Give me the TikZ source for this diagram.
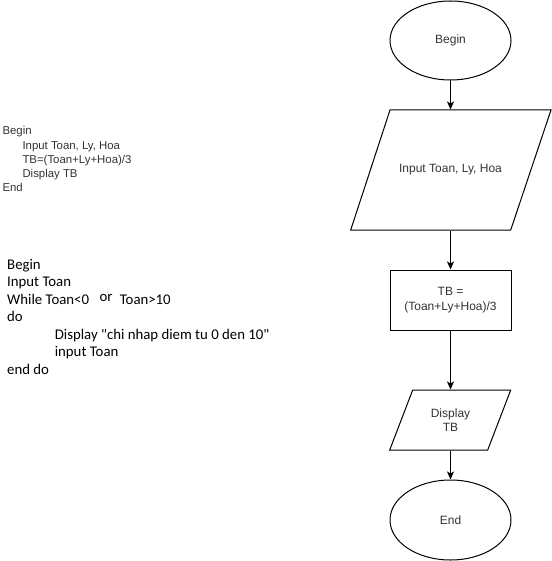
\documentclass[tikz,border=0pt]{standalone}
\usepackage{fontspec}
\setmainfont{Liberation Sans}
\newfontfamily\calibri{Carlito}
\usetikzlibrary{shapes.geometric,arrows.meta}
\definecolor{txtgray}{HTML}{333333}
\begin{document}
\begin{tikzpicture}[x=1pt,y=-1pt,
  line width=1pt,
  arr/.style={-{Stealth[length=8pt,width=7pt,inset=2pt]}},
  term/.style={ellipse,draw,minimum width=121pt,minimum height=79pt,inner sep=0pt,
    font=\fontsize{12}{14}\selectfont,text=txtgray},
  procbox/.style={rectangle,draw,minimum width=121pt,minimum height=60pt,inner sep=0pt,
    align=center,font=\fontsize{12}{14.5}\selectfont,text=txtgray},
  iobox/.style={rectangle,draw=none,inner sep=0pt,align=center,
    font=\fontsize{12}{14.5}\selectfont,text=txtgray},
  codeA/.style={anchor=base west,inner sep=0pt,font=\fontsize{11.4}{13}\selectfont,text=txtgray},
  codeB/.style={anchor=base west,inner sep=0pt,font=\calibri\fontsize{14.8}{17}\selectfont,text=black}]
\useasboundingbox (0,0) rectangle (551,561);

% pseudo code, first version
\node[codeA] (a1) at (2,135) {Begin};
\node[codeA] (a2) at (22,149.2) {Input Toan, Ly, Hoa};
\node[codeA] (a3) at (22,163.4) {TB=(Toan+Ly+Hoa)/3};
\node[codeA] (a4) at (22,177.6) {Display TB};
\node[codeA] (a5) at (2,191.8) {End};

% pseudo code, input check loop
\node[codeB] (b1) at (6.7,269) {Begin};
\node[codeB] (b2) at (6.7,286.5) {Input Toan};
\node[codeB] (b3) at (6.7,304) {While Toan<0};
\node[codeB] (b3or) at (99,301) {or};
\node[codeB] (b3b) at (119.3,304) {Toan>10};
\node[codeB] (b4) at (6.7,321.5) {do};
\node[codeB] (b5) at (54.3,339) {Display "chi nhap diem tu 0 den 10"};
\node[codeB] (b6) at (54.3,356.5) {input Toan};
\node[codeB] (b7) at (6.7,374) {end do};

% flowchart
\node[term] (begin) at (450.5,40.5) {Begin};

\draw (390,110) -- (551,110) -- (510.7,230) -- (350.7,230) -- cycle;
\node[iobox,minimum width=120pt,minimum height=120pt] (in) at (450.5,170) {Input Toan, Ly, Hoa};

\node[procbox] (calc) at (450.5,300) {TB =\\(Toan+Ly+Hoa)/3};

\draw (412.7,390) -- (510.7,390) -- (487.7,450) -- (389.7,450) -- cycle;
\node[iobox,minimum width=90pt,minimum height=60pt] (out) at (450.5,420) {Display\\TB};

\node[term,minimum height=80pt] (end) at (450.5,520) {End};

\draw[arr] (begin) -- (in);
\draw[arr] (in) -- (calc);
\draw[arr] (calc) -- (out);
\draw[arr] (out) -- (end);
\end{tikzpicture}
\end{document}
